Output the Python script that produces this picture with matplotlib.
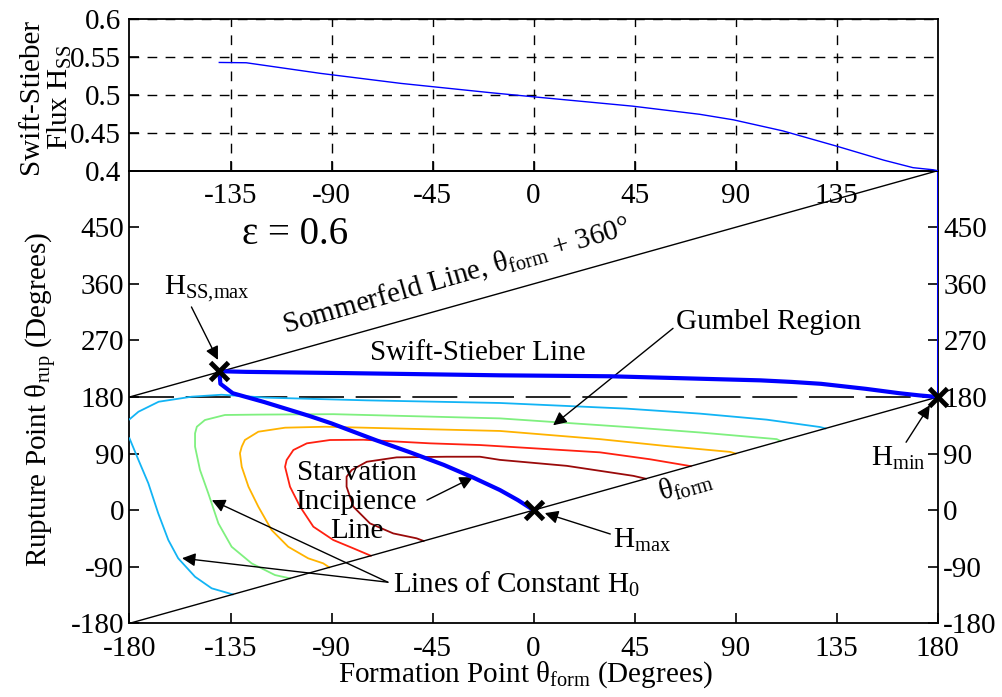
import matplotlib
matplotlib.use("Agg")
import matplotlib.pyplot as plt

plt.rcParams["font.family"] = ["Liberation Serif", "DejaVu Serif"]
plt.rcParams["mathtext.fontset"] = "custom"
plt.rcParams["mathtext.rm"] = "Liberation Serif"
plt.rcParams["mathtext.it"] = "Liberation Serif:italic"
plt.rcParams["mathtext.bf"] = "Liberation Serif:bold"
plt.rcParams["axes.unicode_minus"] = False

# ── Data ────────────────────────────────────────────────────
# top panel: Swift-Stieber flux vs formation point
flux_theta = [-140, -128, -95, -59, -19, 0, 44, 74, 89, 111, 135, 156, 169, 178, 180]
flux_h = [0.543, 0.5426, 0.5286, 0.5153, 0.503, 0.4976, 0.4853, 0.4745, 0.4672,
          0.4526, 0.4324, 0.4139, 0.404, 0.4012, 0.400]

# reference lines
diag_theta = [-180, 180]
diag_rup = [-180, 180]
som_theta = [-180, 180]
som_rup = [180, 540]
edge_theta = [180, 180]
edge_rup = [180, 540]

# Swift-Stieber line
ss_theta = [-140, -128, -83, -15, 34, 75, 101, 115, 128, 148, 163, 172, 180]
ss_rup = [221, 220, 218, 214.5, 213, 209, 206.5, 204, 201, 193, 186, 182.5, 180]

# Starvation incipience line
si_theta = [-140, -139.5, -134, -120, -100, -90, -70, -55, -40, -27, -15, -7, 0]
si_rup = [221, 201, 186, 172, 150, 138, 111, 92, 72, 52, 32, 16, 0]

# lines of constant H0
cyan_up_theta = [-180, -176, -167, -152.3, -139, -119, -74.5, -15, 41.5, 74, 103.8,
                 127.5, 130]
cyan_up_rup = [144.5, 156.6, 172.5, 180.5, 183.6, 179, 174.7, 170.5, 161.5, 153.6,
               144, 132.3, 130]
cyan_lo_theta = [-180, -176, -171.6, -167.2, -162.7, -158.3, -150.8, -143.4, -134]
cyan_lo_rup = [114.3, 79.8, 42.7, -5, -47.5, -76.6, -105.9, -124.3, -134]

green_theta = [-108.5, -115.2, -125.6, -134.5, -140.4, -144.9, -148.6, -150.8, -150.8,
               -150, -146.4, -137.5, -122.7, -89.2, -15, 44.4, 74, 108.3, 110]
green_rup = [-108.5, -103.2, -84.6, -58.2, -21, 26.8, 64, 101, 122.2, 132.7, 143.4,
             151.4, 152, 152.7, 146, 131.6, 123.6, 113, 110]

orange_theta = [-91, -93.7, -100.4, -109.3, -116.7, -122.6, -127, -130, -130.8, -130,
                -128.6, -122.6, -110.7, -92.9, -15, 29.5, 59.2, 87.5, 90]
orange_rup = [-91, -84.6, -76.6, -58.2, -31.6, 5.5, 37.3, 69, 90.4, 101, 111.6, 124.8,
              131.2, 132.7, 126, 113, 102, 92.7, 90]

red_theta = [-72.5, -80.3, -89.2, -98.1, -104, -108.5, -110.7, -110, -107, -101,
             -90.7, -75.8, -46.1, -23.9, 29.5, 51.8, 70]
red_rup = [-72.5, -60.7, -47.5, -26.3, 5.5, 37.3, 69, 79.8, 95.7, 106.3, 111.6, 112,
           106.3, 103.6, 92, 81, 70]

dred_theta = [-49, -52.1, -62.5, -72.9, -80.3, -83.3, -83.3, -81, -74.3, -61, -38.7,
              -23.9, -15, 14.8, 44.4, 50]
dred_rup = [-49, -44.8, -37, -21, 5.5, 37.3, 53.2, 63.9, 77, 84, 85, 85, 80, 70.5,
            54.6, 50]

# special points
pt_ssmax = (-140, 221)
pt_hmax = (0, 0)
pt_hmin = (180, 180)

x_ticks = [-180, -135, -90, -45, 0, 45, 90, 135, 180]
top_x_ticks = [-135, -90, -45, 0, 45, 90, 135]
top_y_ticks = [0.4, 0.45, 0.5, 0.55, 0.6]
rup_ticks = [-180, -90, 0, 90, 180, 270, 360, 450]

# ── Layout ──────────────────────────────────────────────────
fs = 21
fig = plt.figure(figsize=(10.03, 6.97), dpi=100, facecolor="white")
ax = fig.add_axes([0.1291, 0.1057, 0.8058, 0.6494])
ax_top = fig.add_axes([0.1291, 0.7551, 0.8058, 0.2172])
ax.set_facecolor("none")
ax_top.set_facecolor("none")

# ── Top panel ───────────────────────────────────────────────
ax_top.plot(flux_theta, flux_h, color="#0000ff", lw=1.0, zorder=3)
ax_top.set_xlim(-180, 180)
ax_top.set_ylim(0.4, 0.6)
ax_top.set_xticks(top_x_ticks)
ax_top.set_xticklabels([str(t) for t in top_x_ticks])
ax_top.set_yticks(top_y_ticks)
ax_top.set_yticklabels(["0.4", "0.45", "0.5", "0.55", "0.6"])
ax_top.grid(True, color="k", lw=1.0, ls=(0, (7, 6)))
ax_top.tick_params(axis="both", direction="in", length=7, width=1.2, labelsize=fs,
                   pad=6)
ax_top.tick_params(axis="x", pad=9)
for sp in ax_top.spines.values():
    sp.set_linewidth(1.3)

# ── Bottom panel ────────────────────────────────────────────
ax.plot(diag_theta, diag_rup, color="k", lw=1.0, zorder=4)
ax.plot(som_theta, som_rup, color="k", lw=1.0, zorder=4)
ax.plot(edge_theta, edge_rup, color="#0000ff", lw=2.2, zorder=4)
ax.plot([-180, 180], [180, 180], color="k", lw=1.2, ls=(0, (27, 7)), zorder=2)

ax.plot(cyan_up_theta, cyan_up_rup, color="#12b4f5", lw=1.3, zorder=3)
ax.plot(cyan_lo_theta, cyan_lo_rup, color="#12b4f5", lw=1.3, zorder=3)
ax.plot(green_theta, green_rup, color="#7ff07f", lw=1.3, zorder=3)
ax.plot(orange_theta, orange_rup, color="#ffb300", lw=1.3, zorder=3)
ax.plot(red_theta, red_rup, color="#ff2010", lw=1.3, zorder=3)
ax.plot(dred_theta, dred_rup, color="#9a0a0a", lw=1.3, zorder=3)

ax.plot(ss_theta, ss_rup, color="#0000ff", lw=3.0, zorder=5)
ax.plot(si_theta, si_rup, color="#0000ff", lw=3.0, zorder=5)

for p in (pt_ssmax, pt_hmax, pt_hmin):
    ax.plot(p[0], p[1], marker="x", color="k", markersize=13, mew=3.5, zorder=7,
            clip_on=False)

ax.set_xlim(-180, 180)
ax.set_ylim(-180, 540)
ax.set_xticks(x_ticks)
ax.set_yticks(rup_ticks)
ax.tick_params(axis="both", direction="in", length=7, width=1.2, labelsize=fs, pad=6,
               right=True, labelright=True, top=False)
ax.tick_params(axis="y", which="both", right=True, pad=4)
ax.tick_params(axis="x", pad=9)
for sp in ax.spines.values():
    sp.set_linewidth(1.3)

# ── Labels ──────────────────────────────────────────────────
fig.text(46 / 1003, 1 - 97 / 697, "Swift-Stieber\nFlux H$_{\\mathrm{SS}}$",
         rotation=90, ha="center", va="center", fontsize=fs, linespacing=1.05)
fig.text(42 / 1003, 1 - 400 / 697, "Rupture Point θ$_{\\mathrm{rup}}$ (Degrees)",
         rotation=90, ha="center", va="center", fontsize=fs)
fig.text(525 / 1003, 1 - 675 / 697, "Formation Point θ$_{\\mathrm{form}}$ (Degrees)",
         ha="center", va="center", fontsize=fs)

# ── Annotations ─────────────────────────────────────────────
ax.text(-130, 438, "ε = 0.6", fontsize=28, ha="left", va="center")
ax.text(-34.6, 372, "Sommerfeld Line, θ$_{\\mathrm{form}}$ + 360°", fontsize=fs,
        rotation=16, rotation_mode="anchor", ha="center", va="center")
ax.text(-25, 250, "Swift-Stieber Line", fontsize=fs, ha="center", va="center")
ax.text(56, 27, "θ$_{\\mathrm{form}}$", fontsize=fs, rotation=16,
        rotation_mode="anchor", ha="left", va="center")
ax.text(-78.7, 13, "Starvation\nIncipience\nLine", fontsize=fs, ha="center",
        va="center", linespacing=1.15)

arrow = dict(arrowstyle="-|>", color="k", lw=1.0, mutation_scale=20,
             shrinkA=0, shrinkB=0)
ax.annotate("Gumbel Region", xy=(8.7, 135), xytext=(104.6, 299), fontsize=fs,
            ha="center", va="center", arrowprops=dict(arrow, relpos=(0.0, 0.35)))
ax.annotate("H$_{\\mathrm{SS{,}max}}$", xy=(-140.6, 239), xytext=(-164.5, 352),
            fontsize=fs, ha="left", va="center",
            arrowprops=dict(arrow, relpos=(0.3, 0.0)))
ax.annotate("H$_{\\mathrm{min}}$", xy=(176.5, 167), xytext=(150.5, 82),
            fontsize=fs, ha="left", va="center",
            arrowprops=dict(arrow, relpos=(0.6, 1.0)))
ax.annotate("H$_{\\mathrm{max}}$", xy=(5, -4.7), xytext=(35.4, -48),
            fontsize=fs, ha="left", va="center",
            arrowprops=dict(arrow, relpos=(0.0, 0.7)))
ax.annotate("", xy=(-27, 52.4), xytext=(-47.5, 16), arrowprops=arrow)

ax.text(-62.6, -118, "Lines of Constant H$_{0}$", fontsize=fs, ha="left",
        va="center")
ax.annotate("", xy=(-143.3, 15.9), xytext=(-64.9, -114.6), arrowprops=arrow)
ax.annotate("", xy=(-156.6, -76.4), xytext=(-64.9, -114.6), arrowprops=arrow)

fig.savefig("out.png", dpi=100, facecolor="white")
